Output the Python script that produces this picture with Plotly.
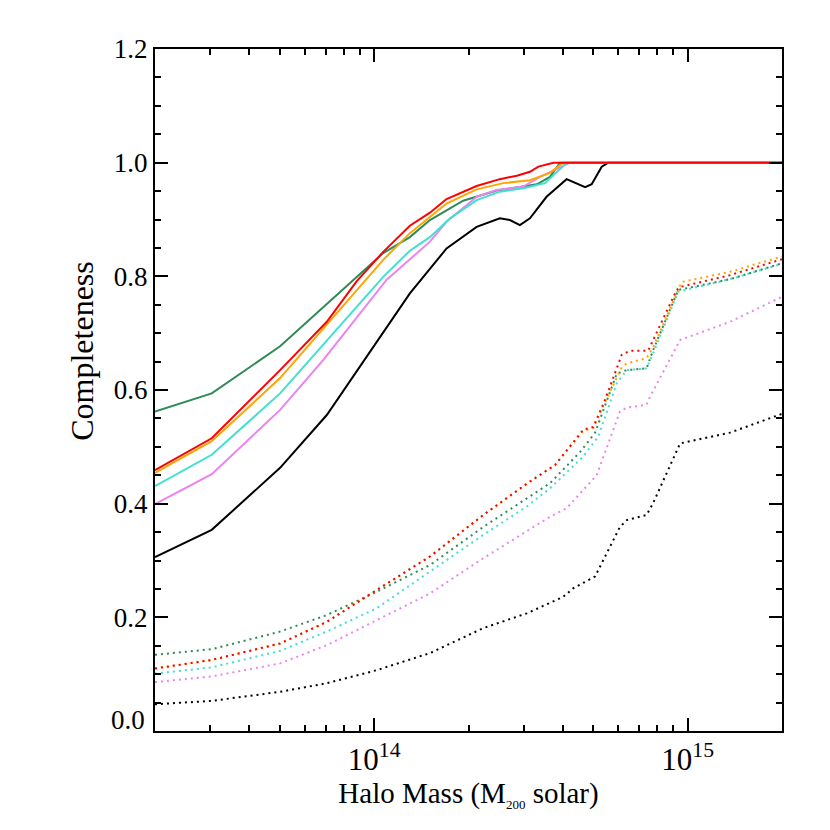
"""Completeness vs halo mass — IDL-style line plot recreated in Plotly."""
import numpy as np
import plotly.graph_objects as go

# log10 halo mass nodes and completeness values, one pair per curve
green_lm = [13.301, 13.482, 13.700, 14.029, 14.114, 14.178, 14.284, 14.348, 14.391, 14.465, 14.519, 14.561, 14.593, 15.301]
green_c = [0.562, 0.594, 0.677, 0.841, 0.869, 0.899, 0.933, 0.943, 0.951, 0.957, 0.962, 0.975, 1.0, 1.0]

red_lm = [13.301, 13.482, 13.700, 13.849, 13.944, 14.029, 14.114, 14.178, 14.231, 14.327, 14.401, 14.455, 14.497, 14.524, 14.572, 15.301]
red_c = [0.459, 0.515, 0.635, 0.720, 0.791, 0.843, 0.889, 0.912, 0.936, 0.959, 0.971, 0.977, 0.984, 0.993, 1.0, 1.0]

orange_lm = [13.301, 13.482, 13.700, 14.029, 14.114, 14.231, 14.327, 14.412, 14.497, 14.561, 14.603, 15.301]
orange_c = [0.454, 0.510, 0.621, 0.829, 0.876, 0.928, 0.953, 0.964, 0.969, 0.982, 1.0, 1.0]

cyan_lm = [13.301, 13.482, 13.700, 14.029, 14.114, 14.178, 14.242, 14.327, 14.401, 14.476, 14.545, 14.614, 15.301]
cyan_c = [0.431, 0.486, 0.594, 0.799, 0.845, 0.869, 0.902, 0.934, 0.949, 0.955, 0.964, 1.0, 1.0]

violet_lm = [13.301, 13.482, 13.700, 13.838, 14.040, 14.178, 14.231, 14.327, 14.391, 14.476, 14.529, 14.625, 15.301]
violet_c = [0.399, 0.452, 0.565, 0.653, 0.794, 0.861, 0.896, 0.940, 0.952, 0.958, 0.975, 1.0, 1.0]

black_lm = [13.301, 13.482, 13.700, 13.849, 14.114, 14.231, 14.327, 14.401, 14.433, 14.465, 14.497, 14.550, 14.614, 14.646, 14.673, 14.694, 14.726, 14.747, 15.301]
black_c = [0.306, 0.354, 0.463, 0.556, 0.770, 0.849, 0.887, 0.902, 0.899, 0.890, 0.902, 0.940, 0.971, 0.964, 0.957, 0.962, 0.993, 1.0, 1.0]

# dotted curves
green_dot_lm = [13.301, 13.482, 13.700, 13.849, 14.008, 14.178, 14.348, 14.487, 14.561, 14.657, 14.705, 14.774, 14.806, 14.869, 14.890, 14.970, 15.135, 15.301]
green_dot_c = [0.134, 0.144, 0.175, 0.204, 0.245, 0.292, 0.359, 0.409, 0.436, 0.491, 0.525, 0.629, 0.635, 0.638, 0.670, 0.776, 0.795, 0.823]

red_dot_lm = [13.301, 13.482, 13.700, 13.849, 14.008, 14.178, 14.348, 14.497, 14.577, 14.667, 14.699, 14.736, 14.790, 14.816, 14.874, 14.901, 14.965, 14.981, 15.135, 15.301]
red_dot_c = [0.110, 0.125, 0.154, 0.192, 0.248, 0.307, 0.380, 0.439, 0.468, 0.530, 0.535, 0.582, 0.662, 0.669, 0.669, 0.700, 0.776, 0.782, 0.802, 0.830]

orange_dot_lm = [13.301, 13.482, 13.700, 13.849, 14.008, 14.178, 14.348, 14.497, 14.577, 14.667, 14.699, 14.736, 14.790, 14.806, 14.869, 14.890, 14.981, 15.135, 15.301]
orange_dot_c = [0.110, 0.125, 0.154, 0.192, 0.248, 0.307, 0.380, 0.439, 0.468, 0.528, 0.533, 0.578, 0.640, 0.647, 0.656, 0.675, 0.790, 0.808, 0.835]

cyan_dot_lm = [13.301, 13.482, 13.700, 13.849, 14.008, 14.178, 14.348, 14.487, 14.561, 14.667, 14.715, 14.774, 14.806, 14.869, 14.890, 14.970, 15.135, 15.301]
cyan_dot_c = [0.101, 0.112, 0.141, 0.175, 0.216, 0.280, 0.345, 0.395, 0.427, 0.483, 0.518, 0.612, 0.635, 0.638, 0.665, 0.773, 0.795, 0.822]

violet_dot_lm = [13.301, 13.482, 13.700, 13.849, 14.008, 14.178, 14.348, 14.561, 14.614, 14.710, 14.784, 14.806, 14.869, 14.880, 14.976, 15.135, 15.301]
violet_dot_c = [0.086, 0.096, 0.119, 0.151, 0.195, 0.242, 0.304, 0.377, 0.392, 0.450, 0.562, 0.569, 0.574, 0.588, 0.688, 0.720, 0.764]

black_dot_lm = [13.301, 13.482, 13.700, 13.849, 14.008, 14.178, 14.348, 14.487, 14.603, 14.635, 14.705, 14.731, 14.784, 14.806, 14.869, 14.890, 14.976, 15.135, 15.301]
black_dot_c = [0.047, 0.053, 0.069, 0.084, 0.107, 0.137, 0.181, 0.207, 0.236, 0.251, 0.272, 0.301, 0.359, 0.371, 0.380, 0.401, 0.506, 0.525, 0.558]

x_ticks = [1e14, 1e15]
x_ticktext = ['10<sup>14</sup>', '10<sup>15</sup>']
x_minor = [3e13, 4e13, 5e13, 6e13, 7e13, 8e13, 9e13,
           2e14, 3e14, 4e14, 5e14, 6e14, 7e14, 8e14, 9e14]
y_ticks = [0.2, 0.4, 0.6, 0.8, 1.0, 1.2]
y_ticktext = ['0.2', '0.4', '0.6', '0.8', '1.0', '1.2']

FONT = 'Liberation Serif'
GREEN = '#2E8B57'
RED = '#FF0000'
ORANGE = '#FFA500'
CYAN = '#40E0D0'
VIOLET = '#EE82EE'
BLACK = '#000000'

solid = [
    (green_lm, green_c, GREEN),
    (black_lm, black_c, BLACK),
    (violet_lm, violet_c, VIOLET),
    (cyan_lm, cyan_c, CYAN),
    (orange_lm, orange_c, ORANGE),
    (red_lm, red_c, RED),
]
dotted = [
    (black_dot_lm, black_dot_c, BLACK),
    (violet_dot_lm, violet_dot_c, VIOLET),
    (cyan_dot_lm, cyan_dot_c, CYAN),
    (green_dot_lm, green_dot_c, GREEN),
    (orange_dot_lm, orange_dot_c, ORANGE),
    (red_dot_lm, red_dot_c, RED),
]

fig = go.Figure()

for lm, c, col in solid:
    fig.add_trace(go.Scatter(
        x=10 ** np.array(lm), y=c, mode='lines',
        line=dict(color=col, width=2),
    ))

for lm, c, col in dotted:
    fig.add_trace(go.Scatter(
        x=10 ** np.array(lm), y=c, mode='lines',
        line=dict(color=col, width=2, dash='2px,4px'),
    ))

# y title sits above the box centre in the original, so it is placed by hand
fig.add_annotation(
    text='Completeness', textangle=-90,
    xref='paper', yref='paper', x=-0.117, y=0.557,
    xanchor='center', yanchor='middle', showarrow=False,
    font=dict(family=FONT, size=32, color='black'),
)
# the bottom label is lifted to sit on the axis, IDL style
fig.add_annotation(
    text='0.0', xref='paper', yref='y', x=-0.013, y=0,
    xanchor='right', yanchor='bottom', yshift=-6, showarrow=False,
    font=dict(family=FONT, size=27, color='black'),
)

fig.update_layout(
    width=830,
    height=830,
    showlegend=False,
    # page body adds 8px, so margins are shifted to land the box at 155..782 / 49..731
    margin=dict(l=147, r=56, t=41, b=107),
    paper_bgcolor='white',
    plot_bgcolor='white',
    font=dict(family=FONT, size=27, color='black'),
    xaxis=dict(
        type='log',
        range=[np.log10(2e13), np.log10(2e15)],
        tickvals=x_ticks,
        ticktext=x_ticktext,
        tickfont=dict(size=31),
        ticks='inside',
        ticklen=13,
        tickwidth=2,
        tickcolor='black',
        minor=dict(tickvals=x_minor, ticks='inside', ticklen=6, tickwidth=2, tickcolor='black'),
        showline=True,
        linecolor='black',
        linewidth=2,
        mirror='ticks',
        showgrid=False,
        zeroline=False,
        title=dict(text='Halo Mass (M<sub><span style="font-size:13px;color:black">200</span></sub> solar)',
                   standoff=2, font=dict(family=FONT, size=29, color='black')),
    ),
    yaxis=dict(
        range=[0, 1.2],
        tickvals=y_ticks,
        ticktext=y_ticktext,
        tickfont=dict(size=27),
        ticks='inside',
        ticklen=13,
        tickwidth=2,
        tickcolor='black',
        minor=dict(dtick=0.05, ticks='inside', ticklen=6, tickwidth=2, tickcolor='black'),
        showline=True,
        linecolor='black',
        linewidth=2,
        mirror='ticks',
        showgrid=False,
        zeroline=False,
    ),
)

fig.write_html("out.html")
